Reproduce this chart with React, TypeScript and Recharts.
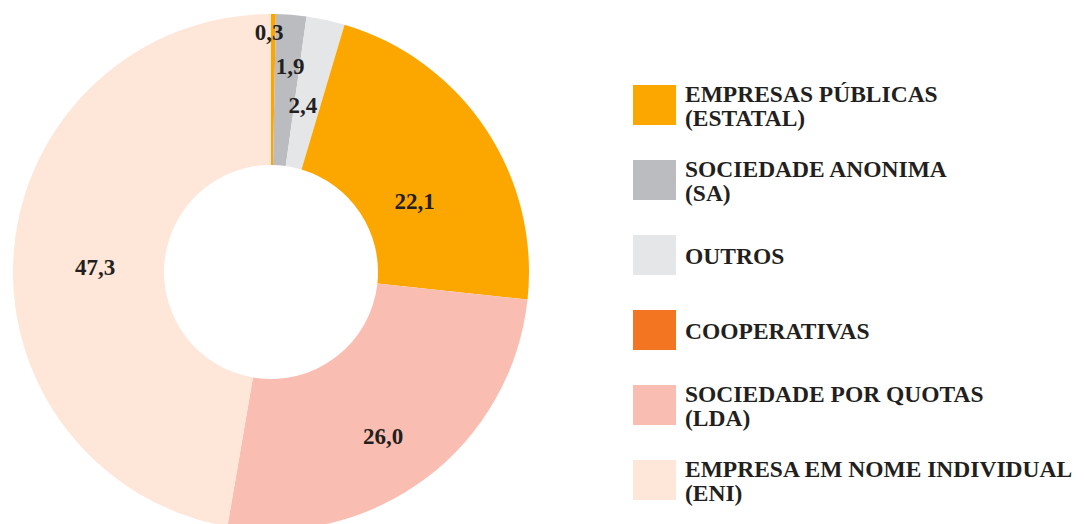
import { Cell, Legend, Pie, PieChart } from "recharts";

// pie slices, clockwise from 12 o'clock
const sliceValues = [0.3, 1.9, 2.4, 22.1, 26.0, 47.3];
const sliceLabels = ["0,3", "1,9", "2,4", "22,1", "26,0", "47,3"];
const sliceColors = ["#FCA600", "#BBBCC0", "#E5E6E8", "#FCA600", "#F9BEB1", "#FEE6D8"];

// legend entries
const legendNames = [
  ["EMPRESAS PÚBLICAS", "(ESTATAL)"],
  ["SOCIEDADE ANONIMA", "(SA)"],
  ["OUTROS"],
  ["COOPERATIVAS"],
  ["SOCIEDADE POR QUOTAS", "(LDA)"],
  ["EMPRESA EM NOME INDIVIDUAL", "(ENI)"],
];
const legendColors = ["#FCA600", "#BBBCC0", "#E5E6E8", "#F37521", "#F9BEB1", "#FEE6D8"];

const data = sliceValues.map((v, i) => ({ name: sliceLabels[i], value: v }));

// label placement tweaks: radius and clockwise angle shift
const labelRadius = [240, 206, 170, 160, 199, 176];
const labelShift = [-1.0, 0.8, -1.4, 7.5, 2.8, -3.3];

const RAD = Math.PI / 180;
const FONT = "'Liberation Serif', 'Times New Roman', serif";
const INK = "#231F20";

const renderLabel = (props: any) => {
  const { cx, cy, midAngle, index } = props;
  const a = (midAngle - labelShift[index]) * RAD;
  const r = labelRadius[index];
  return (
    <text
      x={cx + r * Math.cos(a)}
      y={cy - r * Math.sin(a)}
      textAnchor="middle"
      dominantBaseline="central"
      fill={INK}
      fontFamily={FONT}
      fontWeight="bold"
      fontSize={23}
    >
      {sliceLabels[index]}
    </text>
  );
};

const LegendBox = () => (
  <div style={{ fontFamily: FONT, fontWeight: "bold", fontSize: 23.5, color: INK }}>
    {legendNames.map((lines, i) => (
      <div
        key={i}
        style={{ display: "flex", alignItems: lines.length > 1 ? "flex-start" : "center", height: 40, marginBottom: 35 }}
      >
        <div style={{ width: 43, height: 40, background: legendColors[i], flexShrink: 0 }} />
        <div style={{ marginLeft: 9, lineHeight: "24px", marginTop: lines.length > 1 ? -3.5 : 2, whiteSpace: "nowrap" }}>
          {lines.map((l) => (
            <div key={l}>{l}</div>
          ))}
        </div>
      </div>
    ))}
  </div>
);

export default function App() {
  return (
    <div style={{ position: "absolute", left: 0, top: 0, width: 1084, height: 524, background: "#fff" }}>
      <PieChart width={1084} height={524} margin={{ top: 0, right: 0, bottom: 0, left: 0 }}>
        <Pie
          data={data}
          dataKey="value"
          cx={271}
          cy={272}
          innerRadius={107}
          outerRadius={258}
          startAngle={90}
          endAngle={-270}
          stroke="none"
          label={renderLabel}
          labelLine={false}
          isAnimationActive={false}
        >
          {data.map((d, i) => (
            <Cell key={d.name} fill={sliceColors[i]} />
          ))}
        </Pie>
        <Legend
          content={() => <LegendBox />}
          wrapperStyle={{ position: "absolute", left: 633, top: 85, width: 450 }}
        />
      </PieChart>
    </div>
  );
}
